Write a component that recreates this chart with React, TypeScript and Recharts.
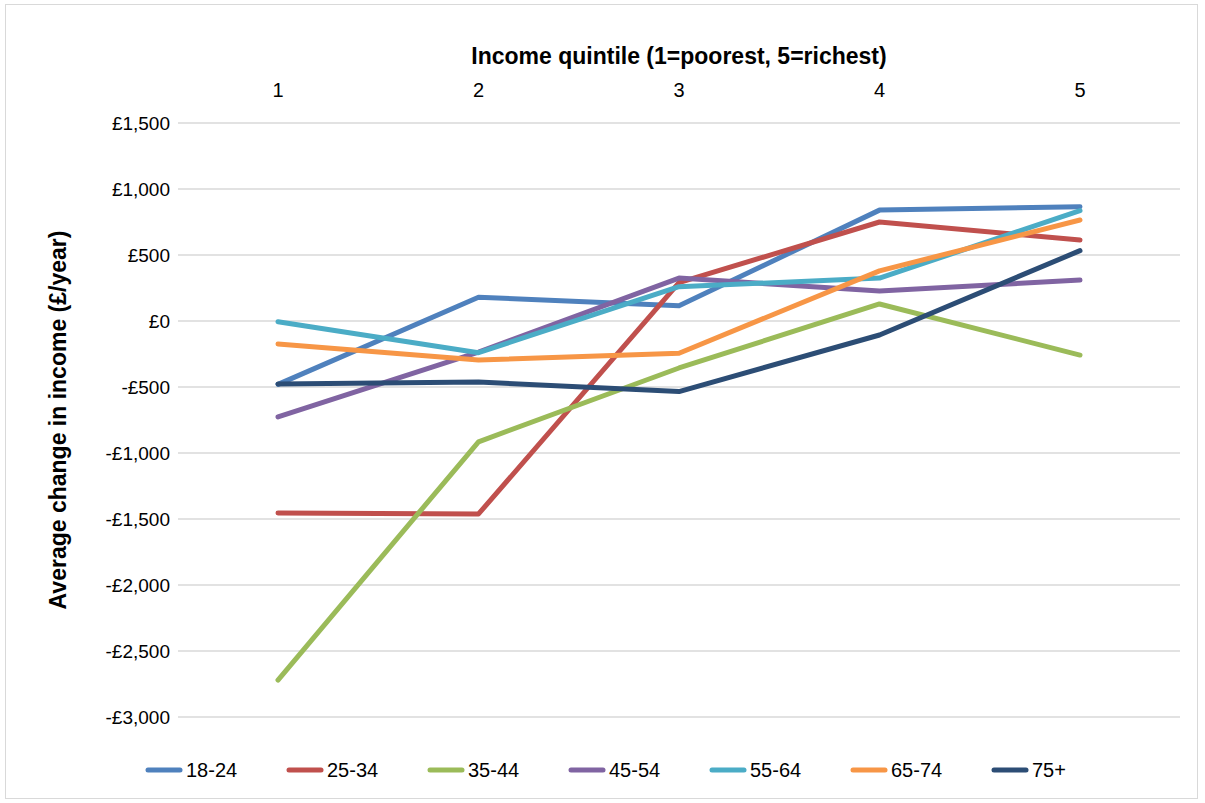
import { CartesianGrid, Label, Line, LineChart, XAxis, YAxis } from "recharts";

const quintiles = ["1", "2", "3", "4", "5"];
const ageGroups = ["18-24", "25-34", "35-44", "45-54", "55-64", "65-74", "75+"];
const colors = ["#4F81BD", "#C0504D", "#9BBB59", "#8064A2", "#4BACC6", "#F79646", "#2C4D75"];

const age18to24 = [-480, 180, 115, 840, 866];
const age25to34 = [-1455, -1462, 290, 750, 614];
const age35to44 = [-2720, -915, -356, 129, -258];
const age45to54 = [-727, -235, 325, 227, 310];
const age55to64 = [-5, -240, 260, 325, 836];
const age65to74 = [-174, -295, -244, 380, 765];
const age75plus = [-477, -462, -535, -106, 533];

const yTicks = [1500, 1000, 500, 0, -500, -1000, -1500, -2000, -2500, -3000];

const seriesValues = [age18to24, age25to34, age35to44, age45to54, age55to64, age65to74, age75plus];

const data = quintiles.map((q, i) => {
  const row: Record<string, string | number> = { quintile: q };
  ageGroups.forEach((g, s) => {
    row[g] = seriesValues[s][i];
  });
  return row;
});

const NARROW = "'Liberation Sans Narrow', 'Arial Narrow', 'Liberation Sans', sans-serif";
const BOLD = "'Liberation Sans', Arial, sans-serif";

const fmt = (v: number) =>
  v < 0 ? `-£${Math.abs(v).toLocaleString("en-GB")}` : `£${v.toLocaleString("en-GB")}`;

function ChartLegend() {
  return (
    <div
      style={{
        position: "absolute",
        left: 145,
        top: 757,
        display: "flex",
        fontFamily: NARROW,
        fontSize: 20,
        color: "#000",
        lineHeight: "26px",
      }}
    >
      {ageGroups.map((g, i) => (
        <div key={g} style={{ display: "flex", alignItems: "center", width: 141 }}>
          <svg width={38} height={8}>
            <line x1={3} y1={4} x2={35} y2={4} stroke={colors[i]} strokeWidth={5} strokeLinecap="round" />
          </svg>
          <span style={{ marginLeft: 3 }}>{g}</span>
        </div>
      ))}
    </div>
  );
}

export default function App() {
  return (
    <div style={{ position: "absolute", left: 0, top: 0, width: 1205, height: 803, background: "#fff" }}>
      <div
        style={{
          position: "absolute",
          left: 5,
          top: 4,
          width: 1193,
          height: 795,
          border: "1px solid #d9d9d9",
          boxSizing: "border-box",
        }}
      />
      <LineChart
        width={1205}
        height={803}
        data={data}
        margin={{ top: 83, right: 25, bottom: 86, left: 0 }}
        style={{ position: "absolute", left: 0, top: 0 }}
      >
        <CartesianGrid vertical={false} stroke="#d9d9d9" strokeWidth={1.5} />
        <XAxis
          dataKey="quintile"
          orientation="top"
          height={40}
          padding={{ left: 100, right: 100 }}
          tickLine={false}
          axisLine={false}
          tickSize={0}
          tickMargin={26}
          tick={{ fontSize: 20, fill: "#000", fontFamily: NARROW }}
        >
          <Label
            value="Income quintile (1=poorest, 5=richest)"
            position="top"
            offset={19}
            style={{ fontSize: 23, fontWeight: "bold", fill: "#000", fontFamily: BOLD }}
          />
        </XAxis>
        <YAxis
          width={178}
          domain={[-3000, 1500]}
          ticks={yTicks}
          interval={0}
          tickLine={false}
          axisLine={false}
          tickSize={0}
          tickMargin={8}
          tickFormatter={fmt}
          tick={{ fontSize: 19, fill: "#000", fontFamily: NARROW }}
        >
          <Label
            content={() => (
              <text
                x={60}
                y={420}
                transform="rotate(-90 60 420)"
                textAnchor="middle"
                dominantBaseline="middle"
                style={{ fontSize: 23, fontWeight: "bold", fill: "#000", fontFamily: BOLD }}
              >
                Average change in income (£/year)
              </text>
            )}
          />
        </YAxis>
        {ageGroups.map((g, i) => (
          <Line
            key={g}
            dataKey={g}
            type="linear"
            stroke={colors[i]}
            strokeWidth={5}
            strokeLinecap="round"
            strokeLinejoin="round"
            dot={false}
            activeDot={false}
            isAnimationActive={false}
          />
        ))}
      </LineChart>
      <ChartLegend />
    </div>
  );
}
